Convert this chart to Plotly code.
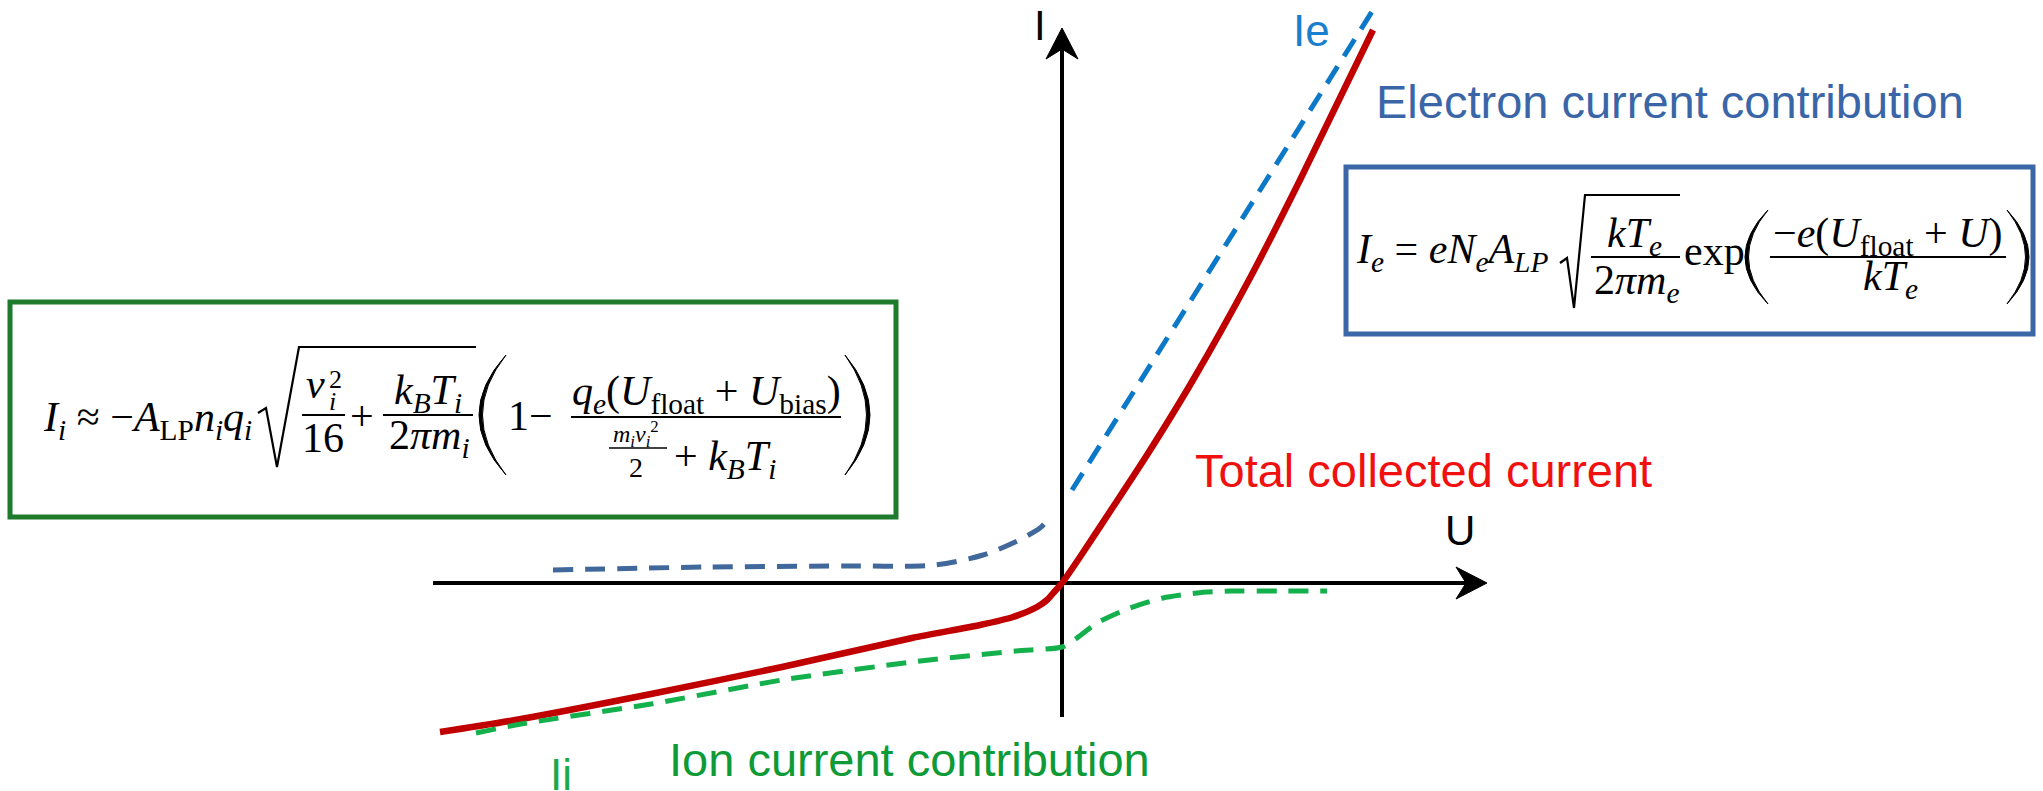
import plotly.graph_objects as go

W, H = 2043, 791

# Langmuir probe I–U characteristic, arbitrary units (U: probe bias, I: current)
u_total = [-6.22, -5.41, -4.11, -2.80, -1.50, -0.82, -0.49, -0.25, -0.15, -0.07, 0.00,
           0.18, 0.51, 0.85, 1.31, 1.88, 2.38, 3.11]
i_total = [-1.49, -1.36, -1.11, -0.84, -0.55, -0.42, -0.34, -0.24, -0.17, -0.08, 0.00,
           0.26, 0.76, 1.28, 2.03, 3.05, 4.03, 5.53]

# electron contribution, retarding region (left of the axis)
u_elec_low = [-5.09, -3.55, -2.18, -1.27, -0.79, -0.49, -0.22, -0.12]
i_elec_low = [0.13, 0.16, 0.17, 0.18, 0.28, 0.40, 0.55, 0.66]

# electron contribution, accelerating region (right of the axis)
u_elec_high = [0.10, 1.60, 3.11]
i_elec_high = [0.93, 3.33, 5.73]

# ion contribution
u_ion = [-5.86, -5.41, -4.11, -2.80, -1.50, -0.46, 0.00, 0.15, 0.35, 0.68, 1.01, 1.35, 1.68, 2.18, 2.65]
i_ion = [-1.50, -1.41, -1.21, -0.97, -0.79, -0.68, -0.64, -0.55, -0.40, -0.25, -0.15, -0.10, -0.08, -0.08, -0.08]

# coordinate frame: 1 unit = 100 px, origin of U/I axes at pixel (1062, 583)
X0, Y0, SCALE = 1062, 583, 100
x_range = [-X0 / SCALE, (W - X0) / SCALE]
y_range = [-(H - Y0) / SCALE, Y0 / SCALE]

# extents of the drawn U and I axes
U_MIN, U_MAX = -6.29, 4.25
I_MIN, I_MAX = -1.34, 5.55

SANS = "Liberation Sans"
SERIF = "Liberation Serif"
F = 42  # formula font size


def px(x):
    return x / W


def py(y):
    return 1 - y / H


fig = go.Figure()

dash = "20px,12px"
fig.add_trace(go.Scatter(x=u_elec_low, y=i_elec_low, mode="lines",
                         line=dict(color="#41689b", width=5, dash=dash, shape="spline", smoothing=0.8)))
fig.add_trace(go.Scatter(x=u_elec_high, y=i_elec_high, mode="lines",
                         line=dict(color="#0b78c8", width=5, dash=dash)))
fig.add_trace(go.Scatter(x=u_total, y=i_total, mode="lines",
                         line=dict(color="#c00000", width=6.5, shape="spline", smoothing=0.7)))
fig.add_trace(go.Scatter(x=u_ion, y=i_ion, mode="lines",
                         line=dict(color="#14b04c", width=5, dash=dash, shape="spline", smoothing=0.6)))

shapes = []

# U and I axes with arrowheads (data coordinates)
shapes.append(dict(type="line", xref="x", yref="y", x0=U_MIN, y0=0, x1=U_MAX - 0.12, y1=0,
                   line=dict(color="black", width=4), layer="below"))
shapes.append(dict(type="line", xref="x", yref="y", x0=0, y0=I_MIN, x1=0, y1=I_MAX - 0.12,
                   line=dict(color="black", width=4), layer="below"))
shapes.append(dict(type="path", xref="x", yref="y",
                   path=f"M {U_MAX},0 L {U_MAX-0.31},0.16 L {U_MAX-0.21},0 L {U_MAX-0.31},-0.16 Z",
                   fillcolor="black", line=dict(color="black", width=1)))
shapes.append(dict(type="path", xref="x", yref="y",
                   path=f"M 0,{I_MAX} L 0.16,{I_MAX-0.31} L 0,{I_MAX-0.21} L -0.16,{I_MAX-0.31} Z",
                   fillcolor="black", line=dict(color="black", width=1)))


def rect(x0, y0, x1, y1, color, width):
    shapes.append(dict(type="rect", xref="paper", yref="paper",
                       x0=px(x0), x1=px(x1), y0=py(y1), y1=py(y0),
                       line=dict(color=color, width=width), fillcolor="rgba(0,0,0,0)", layer="below"))


def hbar(x0, x1, y, width=2.2):
    shapes.append(dict(type="line", xref="paper", yref="paper",
                       x0=px(x0), x1=px(x1), y0=py(y), y1=py(y),
                       line=dict(color="black", width=width)))


def polyline(points, width=2.2):
    d = "M " + " L ".join(f"{px(x):.5f},{py(y):.5f}" for x, y in points)
    shapes.append(dict(type="path", xref="paper", yref="paper", path=d,
                       line=dict(color="black", width=width)))


def paren(x_end, x_bulge, y_top, y_bot, thick=3.5):
    ym = (y_top + y_bot) / 2
    sign = 1 if x_bulge < x_end else -1
    cxo = 2 * x_bulge - x_end
    cxi = 2 * (x_bulge + sign * thick) - x_end
    d = (f"M {px(x_end):.5f},{py(y_top):.5f} "
         f"Q {px(cxo):.5f},{py(ym):.5f} {px(x_end):.5f},{py(y_bot):.5f} "
         f"Q {px(cxi):.5f},{py(ym):.5f} {px(x_end):.5f},{py(y_top):.5f} Z")
    shapes.append(dict(type="path", xref="paper", yref="paper", path=d,
                       fillcolor="black", line=dict(color="black", width=1)))


annotations = []


def text(s, x, y, size, color="black", family=SANS, anchor="center"):
    annotations.append(dict(text=s, x=px(x), y=py(y), xref="paper", yref="paper",
                            showarrow=False, xanchor=anchor, yanchor="middle",
                            font=dict(family=family, size=size, color=color)))


def math(s, x, y, size=F, anchor="center"):
    text(s, x, y, size, "black", SERIF, anchor)


# formula boxes
rect(10, 302, 896, 517, "#1e7b2c", 5)
rect(1346, 167, 2033, 334, "#3a67a7", 5)

# ion current formula
math("<i>I</i><sub><i>i</i></sub> ≈ −<i>A</i><sub>LP</sub><i>n</i><sub><i>i</i></sub><i>q</i><sub><i>i</i></sub>",
     254, 420, anchor="right")
polyline([(258, 413), (266, 408), (277, 467), (299, 347), (476, 347)])
math("<i>v</i>", 315, 384)
math("2", 327, 379, size=26, anchor="left")
math("<i>i</i>", 327, 401, size=26, anchor="left")
hbar(302, 345, 415)
math("16", 323, 438)
math("+", 362, 416)
math("<i>k</i><sub><i>B</i></sub><i>T</i><sub><i>i</i></sub>", 428, 393)
hbar(383, 473, 415)
math("2<i>πm</i><sub><i>i</i></sub>", 429, 438)
paren(506, 479, 355, 475)
math("1−", 506, 416, anchor="left")
math("<i>q</i><sub><i>e</i></sub>(<i>U</i><sub>float</sub> + <i>U</i><sub>bias</sub>)", 706, 394)
hbar(571, 841, 417)
math("<i>m</i><sub><i>i</i></sub><i>v</i><sub><i>i</i></sub><sup>2</sup>", 636, 434, size=24)
hbar(609, 667, 448, width=1.6)
math("2", 636, 467, size=28)
math("+ <i>k</i><sub><i>B</i></sub><i>T</i><sub><i>i</i></sub>", 672, 459, anchor="left")
paren(845, 870, 355, 475)

# electron current formula
math("<i>I</i><sub><i>e</i></sub> = <i>eN</i><sub><i>e</i></sub><i>A</i><sub><i>LP</i></sub>", 1354, 252, anchor="left")
polyline([(1560, 263), (1567, 258), (1574, 308), (1585, 195), (1680, 195)])
math("<i>kT</i><sub><i>e</i></sub>", 1634, 236)
hbar(1591, 1680, 257)
math("2<i>πm</i><sub><i>e</i></sub>", 1636, 283)
math("exp", 1682, 251, anchor="left")
paren(1768, 1745, 210, 304)
math("−<i>e</i>(<i>U</i><sub>float</sub> + <i>U</i>)", 1888, 236)
hbar(1770, 2006, 257)
math("<i>kT</i><sub><i>e</i></sub>", 1890, 279)
paren(2007, 2029, 210, 304)

# labels
text("I", 1040, 26, 42)
text("U", 1460, 530, 42)
text("Ie", 1311, 30, 44, "#1a7fcc")
text("Ii", 561, 774, 44, "#1aa84a")
text("Electron current contribution", 1670, 102, 47, "#3a66a8")
text("Total collected current", 1423, 470, 47, "#f01010")
text("Ion current contribution", 909, 759, 47, "#0e9a36")

fig.update_layout(
    width=W, height=H,
    margin=dict(l=0, r=0, t=0, b=0),
    paper_bgcolor="white", plot_bgcolor="white",
    showlegend=False,
    xaxis=dict(range=x_range, visible=False, fixedrange=True),
    yaxis=dict(range=y_range, visible=False, fixedrange=True),
    shapes=shapes,
    annotations=annotations,
)

fig.write_html("out.html")
